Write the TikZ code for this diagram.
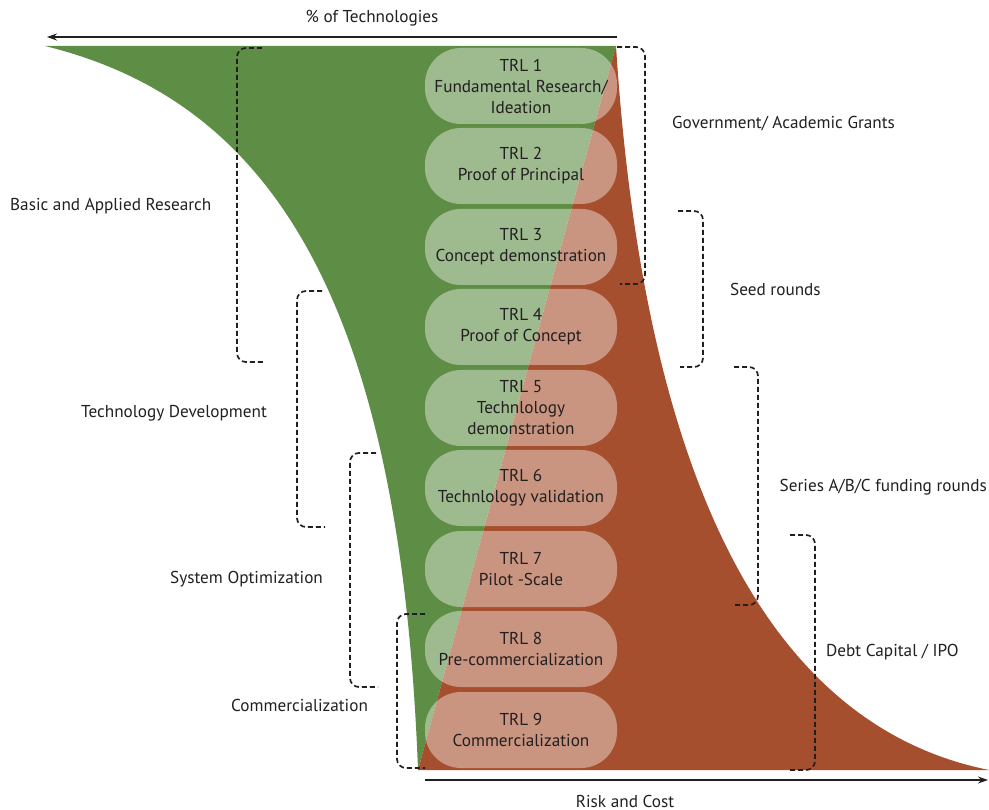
\documentclass[tikz,border=0pt]{standalone}
\usepackage{fontspec}
\setmainfont{PT Sans}
\usetikzlibrary{arrows.meta}

\definecolor{fundgreen}{RGB}{94,141,69}
\definecolor{fundred}{RGB}{166,79,46}
\definecolor{inkgray}{RGB}{35,31,32}

\begin{document}
\begin{tikzpicture}[x=1pt, y=-1pt,
	trl/.style={rectangle, rounded corners=36pt, fill=white, fill opacity=0.4, text opacity=1, minimum width=192pt, minimum height=76pt, align=center, inner sep=0pt, font=\fontsize{17.2}{21}\selectfont, text=inkgray},
	lbl/.style={font=\fontsize{17.2}{21}\selectfont, text=inkgray, inner sep=0pt},
	bracket/.style={dash pattern=on 5pt off 3pt, line width=1.7pt, rounded corners=9pt, draw=inkgray},
	axis/.style={-{Stealth[length=10pt,width=7pt]}, line width=1.5pt, draw=inkgray}]
	\useasboundingbox (0,0) rectangle (989,810);
	% funnel
	\coordinate (tl) at (45,46);
	\coordinate (tm) at (616,46);
	\coordinate (bm) at (418,770);
	\coordinate (br) at (989,770);
	\fill[fundgreen] (tl) -- (tm) -- (bm) .. controls (400,290) and (265,100) .. (tl) -- cycle;
	\fill[fundred] (tm) .. controls (640,420) and (740,720) .. (br) -- (bm) -- cycle;
	% axes
	\coordinate (techs0) at (617,37);
	\coordinate (techs1) at (47,37);
	\coordinate (risk0) at (425,780);
	\coordinate (risk1) at (988,780);
	\draw[axis] (techs0) -- (techs1);
	\draw[axis] (risk0) -- (risk1);
	\node[lbl] (techs) at (372,18) {\% of Technologies};
	\node[lbl] (risk) at (625,801) {Risk and Cost};
	% TRL levels
	\node[trl] (trl1) at (521,86) {TRL 1\\Fundamental Research/\\Ideation};
	\node[trl] (trl2) at (521,166) {TRL 2\\Proof of Principal};
	\node[trl] (trl3) at (521,247) {TRL 3\\Concept demonstration};
	\node[trl] (trl4) at (521,327) {TRL 4\\Proof of Concept};
	\node[trl] (trl5) at (521,408) {TRL 5\\Technlology\\demonstration};
	\node[trl] (trl6) at (521,488) {TRL 6\\Technlology validation};
	\node[trl] (trl7) at (521,569) {TRL 7\\Pilot -Scale};
	\node[trl] (trl8) at (521,649) {TRL 8\\Pre-commercialization};
	\node[trl] (trl9) at (521,730) {TRL 9\\Commercialization};
	% stages
	\draw[bracket] (262,48) -- (237,48) -- (237,362) -- (265,362);
	\draw[bracket] (322,291) -- (297,291) -- (297,527) -- (325,527);
	\draw[bracket] (376,453) -- (350,453) -- (350,687) -- (378,687);
	\draw[bracket] (425,614) -- (397,614) -- (397,768) -- (425,768);
	\node[lbl, anchor=west] (basic) at (10,206) {Basic and Applied Research};
	\node[lbl, anchor=west] (techdev) at (81,413) {Technology Development};
	\node[lbl, anchor=west] (sysopt) at (170,579) {System Optimization};
	\node[lbl, anchor=west] (commerc) at (231,705) {Commercialization};
	% funding
	\draw[bracket] (617,47) -- (645,47) -- (645,284) -- (620,284);
	\draw[bracket] (678,211) -- (703,211) -- (703,367) -- (680,367);
	\draw[bracket] (734,367) -- (758,367) -- (758,605) -- (735,605);
	\draw[bracket] (790,535) -- (815,535) -- (815,770) -- (790,770);
	\node[lbl, anchor=west] (grants) at (672,124) {Government/ Academic Grants};
	\node[lbl, anchor=west] (seed) at (730,289) {Seed rounds};
	\node[lbl, anchor=east] (series) at (987,487) {Series A/B/C funding rounds};
	\node[lbl, anchor=west] (debt) at (826,652) {Debt Capital / IPO};
\end{tikzpicture}
\end{document}
